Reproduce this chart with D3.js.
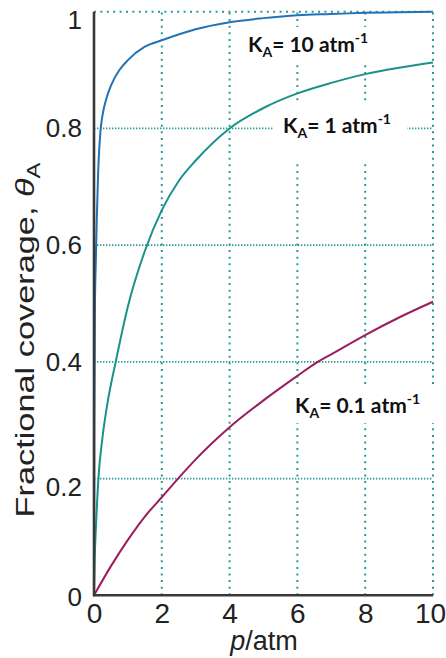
<!DOCTYPE html>
<html>
<head>
<meta charset="utf-8">
<script src="https://cdn.jsdelivr.net/npm/d3@7"></script>
<style>
  html, body { margin: 0; padding: 0; background: #fff; }
  svg { display: block; }
</style>
</head>
<body>
<svg id="chart" width="446" height="658"></svg>
<script>
// ---- data ----
const pTicks = [0, 2, 4, 6, 8, 10];
const thetaTicks = [0, 0.2, 0.4, 0.6, 0.8, 1];
const thetaTickLabels = ["0", "0.2", "0.4", "0.6", "0.8", "1"];

// K_A = 10 atm^-1
const pK10 =     [0, 0.01, 0.03, 0.05, 0.08, 0.12, 0.19, 0.25, 0.37, 0.52, 0.75, 1.0, 1.5, 2, 3, 4, 5, 6, 7, 8, 9, 10];
const thetaK10 = [0, 0.30, 0.506, 0.563, 0.64, 0.72, 0.795, 0.822, 0.852, 0.876, 0.90, 0.917, 0.94, 0.951, 0.970, 0.982, 0.989, 0.994, 0.996, 0.998, 0.999, 1.0];
// K_A = 1 atm^-1
const pK1 =     [0, 0.02, 0.06, 0.13, 0.25, 0.4, 0.64, 1.0, 1.5, 2, 2.5, 3, 4, 5, 6, 7, 8, 9, 10];
const thetaK1 = [0, 0.06, 0.12, 0.20, 0.27, 0.33, 0.40, 0.495, 0.59, 0.66, 0.71, 0.745, 0.80, 0.835, 0.86, 0.878, 0.893, 0.904, 0.913];
// K_A = 0.1 atm^-1
const pK01 =     [0, 0.5, 1, 1.5, 2, 2.48, 3, 4, 5, 6, 6.6, 7, 8, 9, 10];
const thetaK01 = [0, 0.05, 0.095, 0.135, 0.168, 0.20, 0.233, 0.288, 0.334, 0.376, 0.40, 0.413, 0.446, 0.476, 0.503];

const seriesNames = ["10", "1", "0.1"];
const seriesColors = ["#2272b6", "#1b918b", "#9b1c5f"];

// ---- layout ----
const svg = d3.select("#chart");
const x = d3.scaleLinear().domain([0, 10]).range([94, 433]);
const y = d3.scaleLinear().domain([0, 1]).range([595.3, 11.7]);
const gridColor = "#2a9a99";

// grid: horizontal interior lines (dense dots)
const gGrid = svg.append("g");
gGrid.selectAll("line.h").data(thetaTicks.filter(t => t > 0 && t < 1)).join("line")
  .attr("x1", x(0)).attr("x2", x(10))
  .attr("y1", d => y(d)).attr("y2", d => y(d))
  .attr("stroke", gridColor).attr("stroke-width", 1.6)
  .attr("stroke-dasharray", "1.4,1.6");
// top line
gGrid.append("line")
  .attr("x1", x(0)).attr("x2", x(10)).attr("y1", y(1)).attr("y2", y(1))
  .attr("stroke", gridColor).attr("stroke-width", 2)
  .attr("stroke-dasharray", "2,4.4");
// vertical lines
gGrid.selectAll("line.v").data(pTicks.filter(t => t > 0)).join("line")
  .attr("x1", d => x(d)).attr("x2", d => x(d))
  .attr("y1", y(0)).attr("y2", y(1))
  .attr("stroke", gridColor).attr("stroke-width", 2)
  .attr("stroke-dasharray", "2,4.6");

// white backgrounds behind labels (break the grid)
const labelBoxes = [
  [238, 27, 145, 38],
  [273, 104, 134, 56],
  [285, 385, 155, 38]
];
svg.selectAll("rect.lb").data(labelBoxes).join("rect")
  .attr("x", d => d[0]).attr("y", d => d[1]).attr("width", d => d[2]).attr("height", d => d[3])
  .attr("fill", "#fff");

// curves
const series = [
  { p: pK10, t: thetaK10 },
  { p: pK1, t: thetaK1 },
  { p: pK01, t: thetaK01 }
];
const line = d3.line().x(d => x(d[0])).y(d => y(d[1])).curve(d3.curveMonotoneX);
svg.selectAll("path.curve").data(series).join("path")
  .attr("d", s => line(s.p.map((v, i) => [v, s.t[i]])))
  .attr("fill", "none")
  .attr("stroke", (s, i) => seriesColors[i])
  .attr("stroke-width", 2);

// axes lines
svg.append("line").attr("x1", x(0)).attr("x2", x(0)).attr("y1", y(0) + 1).attr("y2", y(1))
  .attr("stroke", "#383838").attr("stroke-width", 2.6);
svg.append("line").attr("x1", x(0) - 1).attr("x2", x(10)).attr("y1", y(0)).attr("y2", y(0))
  .attr("stroke", "#383838").attr("stroke-width", 2.6);

// tick labels via d3 axes
const xAxis = svg.append("g").attr("transform", `translate(0,${y(0)})`)
  .call(d3.axisBottom(x).tickValues(pTicks).tickSize(0).tickPadding(8).tickFormat(d3.format("d")));
xAxis.select(".domain").remove();
xAxis.selectAll("text").attr("font-family", "'Liberation Sans', Arial, sans-serif")
  .attr("font-size", 28).attr("fill", "#222")
  .attr("transform", d => d === 10 ? "translate(-3,0)" : null);

const yAxis = svg.append("g").attr("transform", `translate(${x(0)},0)`)
  .call(d3.axisLeft(y).tickValues(thetaTicks).tickSize(0).tickPadding(12)
    .tickFormat((d, i) => thetaTickLabels[i]));
yAxis.select(".domain").remove();
yAxis.selectAll("text").attr("font-family", "'Liberation Sans', Arial, sans-serif")
  .attr("font-size", 26).attr("fill", "#222")
  .attr("transform", d => d === 1 ? "translate(0,8)" : d === 0.2 ? "translate(0,9)" : d === 0 ? "translate(0,2)" : null);

// x axis title
const xt = svg.append("text").attr("x", 264).attr("y", 650)
  .attr("text-anchor", "middle")
  .attr("font-family", "'Liberation Sans', Arial, sans-serif")
  .attr("font-size", 27).attr("fill", "#222");
xt.append("tspan").attr("font-style", "italic").text("p");
xt.append("tspan").text("/atm");

// y axis title
const yt = svg.append("text")
  .attr("text-anchor", "middle")
  .attr("font-family", "'Liberation Sans', Arial, sans-serif")
  .attr("font-size", 26).attr("fill", "#222");
yt.append("tspan").text("Fractional coverage, ");
yt.append("tspan").attr("font-style", "italic").text("θ");
yt.append("tspan").attr("font-size", 18).attr("dy", 6).text("A");
const ytLen = yt.node().getComputedTextLength();
const sx = 355 / ytLen;
yt.attr("transform", `translate(34,340) rotate(-90) scale(${sx},1)`);

// series labels
const labelPos = [[248, 52], [283, 133], [295, 413]];
const lbl = svg.selectAll("text.klabel").data(seriesNames).join("text")
  .attr("class", "klabel")
  .attr("x", (d, i) => labelPos[i][0]).attr("y", (d, i) => labelPos[i][1])
  .attr("font-family", "Lato, 'Open Sans', sans-serif")
  .attr("font-weight", "bold").attr("font-size", 21).attr("fill", "#111");
lbl.append("tspan").text("K");
lbl.append("tspan").attr("font-size", 14).attr("dy", 5).text("A");
lbl.append("tspan").attr("dy", -5).text(d => `= ${d} atm`);
lbl.append("tspan").attr("font-size", 14).attr("dy", -9).text("-1");
</script>
</body>
</html>
